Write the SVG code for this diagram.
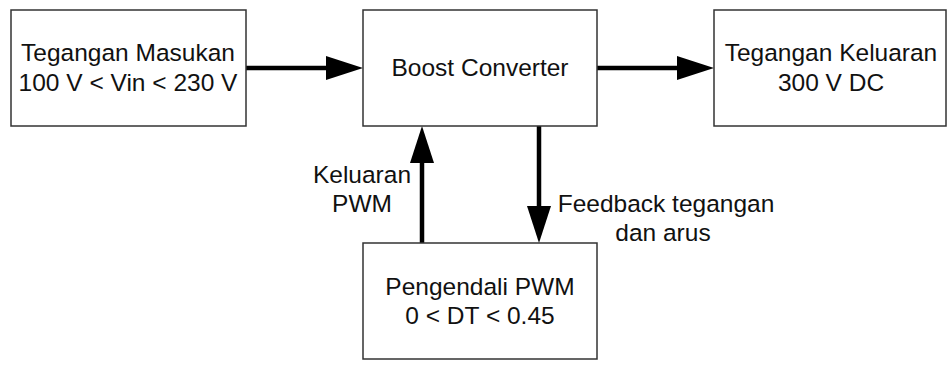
<svg xmlns="http://www.w3.org/2000/svg" width="948" height="370" viewBox="0 0 948 370">
<defs>
<style>
.box{fill:none;stroke:#333;stroke-width:1.5}
.t{font-family:"Liberation Sans",Arial,sans-serif;font-size:24.5px;fill:#111;text-anchor:middle}
.c{stroke:#000;stroke-width:4.5;fill:none}
.h{fill:#000;stroke:none}
</style>
</defs>
<rect width="948" height="370" fill="#fff"/>
<g id="connectors">
<line class="c" x1="246" y1="68" x2="330" y2="68"/>
<polygon class="h" points="326,56 363,68 326,80"/>
<line class="c" x1="597" y1="68" x2="680" y2="68"/>
<polygon class="h" points="677,56 714,68 677,80"/>
<line class="c" x1="422" y1="243" x2="422" y2="160"/>
<polygon class="h" points="410,163 422,126 434,163"/>
<line class="c" x1="539" y1="126" x2="539" y2="210"/>
<polygon class="h" points="527,206 539,243 551,206"/>
<text class="t" x="362" y="183">Keluaran</text>
<text class="t" x="362" y="212">PWM</text>
<text class="t" x="666" y="211.5">Feedback tegangan</text>
<text class="t" x="663" y="241">dan arus</text>
</g>
<g id="node-input">
<rect class="box" x="11" y="10" width="235" height="116"/>
<text class="t" x="128" y="61">Tegangan Masukan</text>
<text class="t" x="128" y="91">100 V &lt; Vin &lt; 230 V</text>
</g>
<g id="node-boost">
<rect class="box" x="363" y="10" width="234" height="116"/>
<text class="t" x="480" y="76">Boost Converter</text>
</g>
<g id="node-output">
<rect class="box" x="714" y="10" width="232" height="116"/>
<text class="t" x="831" y="61">Tegangan Keluaran</text>
<text class="t" x="831" y="91">300 V DC</text>
</g>
<g id="node-pwm">
<rect class="box" x="363" y="243" width="234" height="116"/>
<text class="t" x="480" y="295">Pengendali PWM</text>
<text class="t" x="480" y="324">0 &lt; DT &lt; 0.45</text>
</g>
</svg>
